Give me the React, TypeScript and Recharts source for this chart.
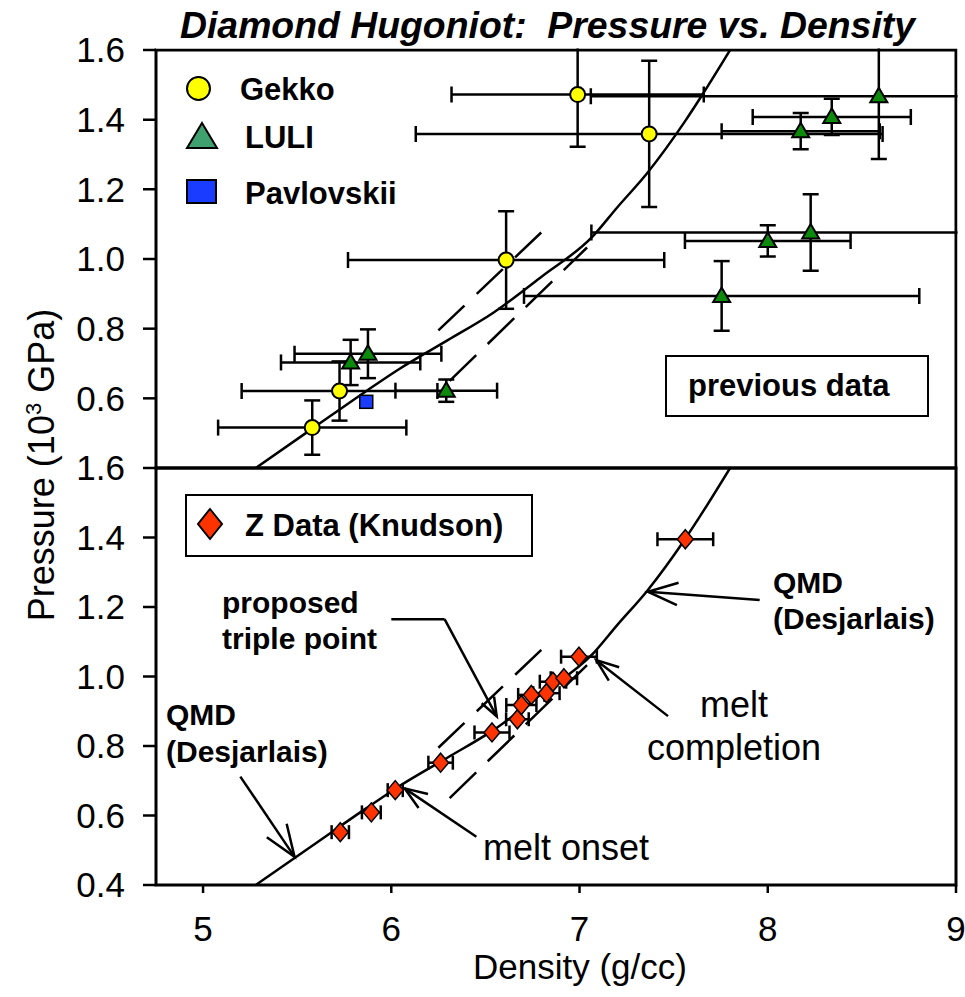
import React from 'react';
import {
  ComposedChart,
  XAxis,
  YAxis,
  Scatter,
  Line,
  ErrorBar,
  ReferenceLine,
  ReferenceArea,
} from 'recharts';

// ---------- data ----------
const xDomain = [4.75, 9];
const yDomain = [0.4, 1.6];
const xTicks = [5, 6, 7, 8, 9];
const yTicksTop = [0.6, 0.8, 1.0, 1.2, 1.4, 1.6];
const yTicksBottom = [0.4, 0.6, 0.8, 1.0, 1.2, 1.4, 1.6];

// density d (g/cc), pressure p (10^3 GPa), ex / ey = error half widths
const gekko = [
  { d: 6.99, p: 1.472, ex: 0.67, ey: 0.15 },
  { d: 7.37, p: 1.359, ex: 1.24, ey: 0.21 },
  { d: 6.61, p: 0.997, ex: 0.84, ey: 0.14 },
  { d: 5.725, p: 0.621, ex: 0.52, ey: 0.085 },
  { d: 5.58, p: 0.516, ex: 0.5, ey: 0.078 },
];

const luli = [
  { d: 8.59, p: 1.467, ex: 1.53, ey: 0.18 },
  { d: 8.34, p: 1.408, ex: 0.42, ey: 0.052 },
  { d: 8.175, p: 1.367, ex: 0.42, ey: 0.052 },
  { d: 8.228, p: 1.076, ex: 1.165, ey: 0.11 },
  { d: 8.0, p: 1.052, ex: 0.44, ey: 0.045 },
  { d: 7.755, p: 0.894, ex: 1.05, ey: 0.1 },
  { d: 5.876, p: 0.728, ex: 0.39, ey: 0.07 },
  { d: 5.784, p: 0.703, ex: 0.37, ey: 0.065 },
  { d: 6.292, p: 0.622, ex: 0.27, ey: 0.032 },
];

const pavlovskii = [{ d: 5.867, p: 0.59 }];

const zData = [
  { d: 5.729, p: 0.552, ex: 0.046 },
  { d: 5.894, p: 0.609, ex: 0.05 },
  { d: 6.021, p: 0.673, ex: 0.04 },
  { d: 6.262, p: 0.752, ex: 0.065 },
  { d: 6.535, p: 0.839, ex: 0.093 },
  { d: 6.67, p: 0.877, ex: 0.06 },
  { d: 6.691, p: 0.918, ex: 0.08 },
  { d: 6.744, p: 0.947, ex: 0.07 },
  { d: 6.824, p: 0.952, ex: 0.07 },
  { d: 6.859, p: 0.985, ex: 0.07 },
  { d: 6.917, p: 0.995, ex: 0.07 },
  { d: 6.997, p: 1.057, ex: 0.095 },
  { d: 7.562, p: 1.395, ex: 0.148 },
];

const qmdCurve = [
  { d: 5.28, p: 0.4 },
  { d: 5.58, p: 0.513 },
  { d: 5.87, p: 0.622 },
  { d: 6.03, p: 0.68 },
  { d: 6.3, p: 0.767 },
  { d: 6.54, p: 0.845 },
  { d: 6.8, p: 0.95 },
  { d: 7.07, p: 1.065 },
  { d: 7.2, p: 1.148 },
  { d: 7.36, p: 1.247 },
  { d: 7.56, p: 1.395 },
  { d: 7.66, p: 1.478 },
  { d: 7.8, p: 1.6 },
];

const meltUpper = [
  { d: 6.25, p: 0.795 },
  { d: 6.8, p: 1.078 },
];
const meltLower = [
  { d: 6.31, p: 0.65 },
  { d: 7.04, p: 1.033 },
];

// annotation arrows (data coordinates of the lower panel), head = arrowhead length
const arrows = [
  { from: { x: 5.198, y: 0.712 }, to: { x: 5.486, y: 0.481 }, head: 34 },
  { from: { x: 6.0, y: 1.165 }, to: { x: 6.283, y: 1.165 }, head: 0 },
  { from: { x: 6.283, y: 1.165 }, to: { x: 6.56, y: 0.885 }, head: 20 },
  { from: { x: 6.452, y: 0.539 }, to: { x: 6.071, y: 0.678 }, head: 24 },
  { from: { x: 7.47, y: 0.886 }, to: { x: 7.089, y: 1.047 }, head: 24 },
  { from: { x: 7.957, y: 1.22 }, to: { x: 7.363, y: 1.244 }, head: 32 },
];

// ---------- styles ----------
const FONT = '"Liberation Sans", Arial, Helvetica, sans-serif';
const W = 965;
const H = 997;

const CircleMark = (props: any) => (
  <circle cx={props.cx} cy={props.cy} r={7.5} fill="#ffff00" stroke="#000" strokeWidth={2} />
);
const TriangleMark = (props: any) => {
  const { cx, cy } = props;
  return (
    <path
      d={`M${cx},${cy - 8.5} L${cx + 8.5},${cy + 6} L${cx - 8.5},${cy + 6} Z`}
      fill="#0b8a0b"
      stroke="#000"
      strokeWidth={2}
      strokeLinejoin="miter"
    />
  );
};
const SquareMark = (props: any) => (
  <rect x={props.cx - 6.5} y={props.cy - 6.5} width={13} height={13} fill="#1a3cff" stroke="#000" strokeWidth={1.5} />
);
const DiamondMark = (props: any) => {
  const { cx, cy } = props;
  return (
    <path
      d={`M${cx},${cy - 9.5} L${cx + 8},${cy} L${cx},${cy + 9.5} L${cx - 8},${cy} Z`}
      fill="#ff3300"
      stroke="#000"
      strokeWidth={1.5}
    />
  );
};

const makeArrow = (head: number) => (props: any) => {
  const { x1, y1, x2, y2 } = props;
  const parts: any[] = [
    <line key="s" x1={x1} y1={y1} x2={x2} y2={y2} stroke="#000" strokeWidth={2.5} />,
  ];
  if (head > 0) {
    const ang = Math.atan2(y1 - y2, x1 - x2);
    const a = 0.36;
    const bx1 = x2 + head * Math.cos(ang + a);
    const by1 = y2 + head * Math.sin(ang + a);
    const bx2 = x2 + head * Math.cos(ang - a);
    const by2 = y2 + head * Math.sin(ang - a);
    parts.push(
      <path
        key="h"
        d={`M${bx1},${by1} L${x2},${y2} L${bx2},${by2}`}
        fill="none"
        stroke="#000"
        strokeWidth={2.5}
      />
    );
  }
  return <g>{parts}</g>;
};

const tickStyle = { fontSize: 35, fill: '#000', fontFamily: FONT };
const fmt = (v: number) => v.toFixed(1);

const Frame = () => (
  <ReferenceArea
    x1={xDomain[0]}
    x2={xDomain[1]}
    y1={yDomain[0]}
    y2={yDomain[1]}
    fill="none"
    fillOpacity={0}
    stroke="#000"
    strokeWidth={3}
    ifOverflow="visible"
  />
);

const curveLines = [
  <Line key="qmd" data={qmdCurve} dataKey="p" type="monotone" stroke="#000" strokeWidth={2.5} dot={false} activeDot={false} isAnimationActive={false} />,
  <Line key="mu" data={meltUpper} dataKey="p" type="linear" stroke="#000" strokeWidth={2.5} strokeDasharray="36 17" dot={false} activeDot={false} isAnimationActive={false} />,
  <Line key="ml" data={meltLower} dataKey="p" type="linear" stroke="#000" strokeWidth={2.5} strokeDasharray="37 16" dot={false} activeDot={false} isAnimationActive={false} />,
];

const errStyle = { stroke: '#000', strokeWidth: 2.5 };

function TopPanel() {
  return (
    <ComposedChart width={W} height={H} margin={{ top: 50, right: 9, bottom: 529, left: 0 }}>
      <XAxis
        dataKey="d"
        type="number"
        domain={xDomain}
        ticks={xTicks}
        allowDataOverflow
        height={0}
        axisLine={false}
        tickSize={8}
        tickLine={{ stroke: '#000', strokeWidth: 2.5 }}
        tickFormatter={() => ''}
      />
      <YAxis
        dataKey="p"
        type="number"
        domain={yDomain}
        ticks={yTicksTop}
        allowDataOverflow
        width={156}
        axisLine={false}
        tickSize={13}
        tickMargin={18}
        tickLine={{ stroke: '#000', strokeWidth: 2.5 }}
        tick={tickStyle}
        tickFormatter={fmt}
      />
      {curveLines}
      <Scatter data={gekko} shape={CircleMark} isAnimationActive={false}>
        <ErrorBar dataKey="ey" direction="y" width={8} {...errStyle} />
        <ErrorBar dataKey="ex" direction="x" width={8} {...errStyle} />
      </Scatter>
      <Scatter data={luli} shape={TriangleMark} isAnimationActive={false}>
        <ErrorBar dataKey="ey" direction="y" width={8} {...errStyle} />
        <ErrorBar dataKey="ex" direction="x" width={8} {...errStyle} />
      </Scatter>
      <Scatter data={pavlovskii} shape={SquareMark} isAnimationActive={false} />
      {Frame()}
    </ComposedChart>
  );
}

function BottomPanel() {
  return (
    <ComposedChart width={W} height={H} margin={{ top: 468, right: 9, bottom: 0, left: 0 }}>
      <XAxis
        dataKey="d"
        type="number"
        domain={xDomain}
        ticks={xTicks}
        allowDataOverflow
        height={112}
        axisLine={false}
        tickSize={8}
        tickMargin={23}
        tickLine={{ stroke: '#000', strokeWidth: 2.5 }}
        tick={tickStyle}
        tickFormatter={(v: number) => String(v)}
      />
      <YAxis
        dataKey="p"
        type="number"
        domain={yDomain}
        ticks={yTicksBottom}
        allowDataOverflow
        width={156}
        axisLine={false}
        tickSize={13}
        tickMargin={18}
        tickLine={{ stroke: '#000', strokeWidth: 2.5 }}
        tick={tickStyle}
        tickFormatter={fmt}
      />
      {curveLines}
      <Scatter data={zData} shape={DiamondMark} isAnimationActive={false}>
        <ErrorBar dataKey="ex" direction="x" width={7} stroke="#000" strokeWidth={2.5} />
      </Scatter>
      {arrows.map((a, i) => (
        <ReferenceLine key={i} segment={[a.from, a.to]} stroke="#000" shape={makeArrow(a.head)} ifOverflow="visible" />
      ))}
      {Frame()}
    </ComposedChart>
  );
}

function Overlay() {
  const bold = { fontFamily: FONT, fontWeight: 'bold' as const, fill: '#000' };
  const norm = { fontFamily: FONT, fill: '#000' };
  return (
    <svg width={W} height={H} style={{ position: 'absolute', left: 0, top: 0, pointerEvents: 'none' }}>
      {/* title */}
      <text
        x={180}
        y={38}
        fontSize={37}
        fontStyle="italic"
        textLength={735}
        lengthAdjust="spacingAndGlyphs"
        style={{ whiteSpace: 'pre' }}
        {...bold}
      >
        {'Diamond Hugoniot:  Pressure vs. Density'}
      </text>

      {/* top legend */}
      <circle cx={198.5} cy={88.5} r={11.5} fill="#ffff00" stroke="#000" strokeWidth={2} />
      <text x={240} y={100} fontSize={31} {...bold}>Gekko</text>
      <path d="M202,123 L217,148 L187,148 Z" fill="#3fa070" stroke="#000" strokeWidth={2} />
      <text x={245} y={148} fontSize={31} {...bold}>LULI</text>
      <rect x={187} y={180} width={29} height={23} fill="#1a3cff" stroke="#000" strokeWidth={2} />
      <text x={245} y={204} fontSize={31} {...bold}>Pavlovskii</text>

      {/* previous data box */}
      <rect x={666} y={356} width={262} height={60} fill="#fff" stroke="#000" strokeWidth={2} />
      <text x={688} y={396} fontSize={31} {...bold}>previous data</text>

      {/* Z data legend */}
      <rect x={186} y={495} width={346} height={61} fill="#fff" stroke="#000" strokeWidth={2} />
      <path d="M210,509 L222,524 L210,539 L198,524 Z" fill="#ff3300" stroke="#000" strokeWidth={2} />
      <text x={245} y={536} fontSize={31} {...bold}>Z Data (Knudson)</text>

      {/* annotations */}
      <text x={222} y={613} fontSize={30} {...bold}>proposed</text>
      <text x={222} y={649} fontSize={30} {...bold}>triple point</text>
      <text x={166} y={725} fontSize={30} {...bold}>QMD</text>
      <text x={166} y={762} fontSize={30} {...bold}>(Desjarlais)</text>
      <text x={773} y={593} fontSize={30} {...bold}>QMD</text>
      <text x={773} y={629} fontSize={30} {...bold}>(Desjarlais)</text>
      <text x={734} y={717} fontSize={36} textAnchor="middle" {...norm}>melt</text>
      <text x={734} y={760} fontSize={36} textAnchor="middle" {...norm}>completion</text>
      <text x={483} y={860} fontSize={36} {...norm}>melt onset</text>

      {/* axis titles */}
      <text x={580} y={979} fontSize={35} textAnchor="middle" {...norm}>Density (g/cc)</text>
      <text x={54} y={465} fontSize={36} textAnchor="middle" transform="rotate(-90, 54, 465)" {...norm}>
        Pressure (10<tspan dy={-13} fontSize={22}>3</tspan>
        <tspan dy={13}> GPa)</tspan>
      </text>
    </svg>
  );
}

const topClip =
  'polygon(0px 0px, 156px 0px, 156px 48.5px, 957.5px 48.5px, 957.5px 490px, 0px 490px)';

export default function App() {
  return (
    <div style={{ position: 'absolute', left: 0, top: 0, width: W, height: H, background: '#fff', fontFamily: FONT }}>
      <div style={{ position: 'absolute', left: 0, top: 0, width: W, height: H, clipPath: topClip }}>
        <TopPanel />
      </div>
      <div style={{ position: 'absolute', left: 0, top: 0, width: W, height: H }}>
        <BottomPanel />
      </div>
      <Overlay />
    </div>
  );
}
